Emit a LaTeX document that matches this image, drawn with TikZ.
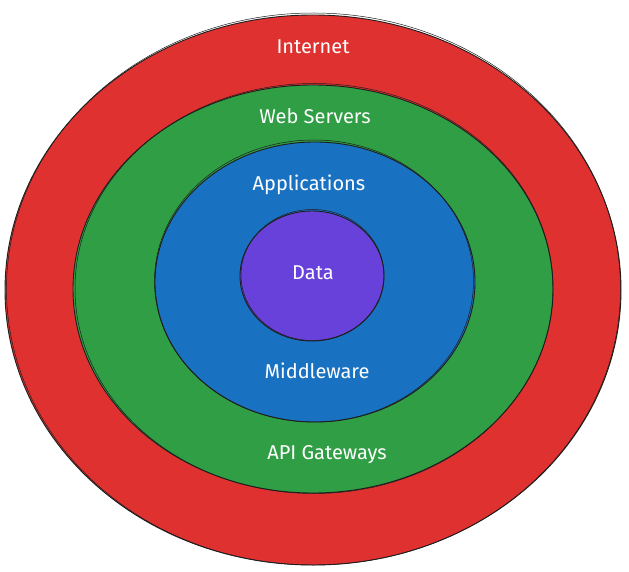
\documentclass[tikz,border=0pt]{standalone}
\usepackage{fontspec}
\setmainfont{Fira Sans}
\definecolor{exred}{HTML}{E03131}
\definecolor{exgreen}{HTML}{2F9E44}
\definecolor{exblue}{HTML}{1971C2}
\definecolor{expurple}{HTML}{6741D9}
\definecolor{exline}{HTML}{1E1E1E}
\tikzset{
  ring/.style={draw=exline, line width=0.9pt},
  sketch/.style={draw=exline, line width=0.5pt},
  lbl/.style={text=white, font=\fontsize{20}{24}\selectfont, inner sep=0pt}
}
\begin{document}
\begin{tikzpicture}[x=1pt,y=-1pt]
\useasboundingbox (0,0) rectangle (629,572);
% rings
\path[ring, fill=exred] (313,290) ellipse [x radius=308, y radius=275];
\path[sketch] (313.5,289) ellipse [x radius=307, y radius=276];
\path[ring, fill=exgreen] (313,289) ellipse [x radius=240, y radius=204];
\path[sketch] (314,288.5) ellipse [x radius=239, y radius=205];
\path[ring, fill=exblue] (315,282) ellipse [x radius=160, y radius=140];
\path[sketch] (314,281) ellipse [x radius=159.5, y radius=141];
\path[ring, fill=expurple] (312,276) ellipse [x radius=72, y radius=65];
\path[sketch] (312.5,275) ellipse [x radius=71.5, y radius=65.5];
% labels
\node[lbl] (internet) at (313,47) {Internet};
\node[lbl] (web) at (315,116) {Web Servers};
\node[lbl] (apps) at (309,185) {Applications};
\node[lbl] (data) at (313,273) {Data};
\node[lbl] (mid) at (317,371) {Middleware};
\node[lbl] (api) at (327,455) {API Gateways};
\end{tikzpicture}
\end{document}
